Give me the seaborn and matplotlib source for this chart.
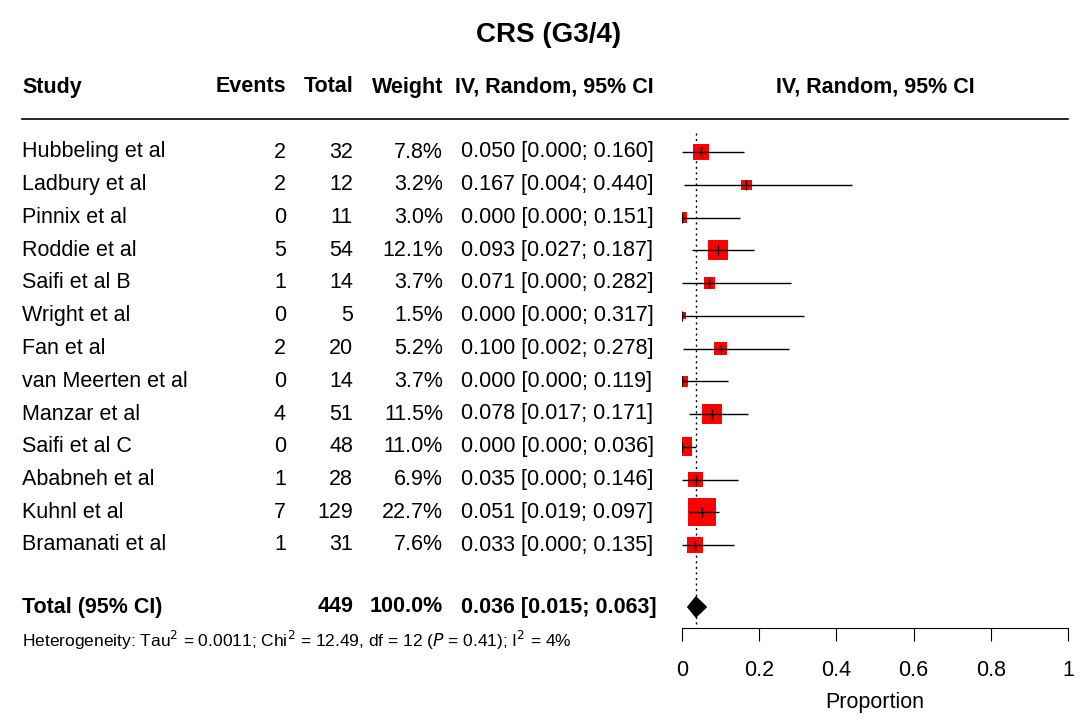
import matplotlib
matplotlib.use("Agg")
import matplotlib.pyplot as plt
import seaborn as sns
import pandas as pd
import numpy as np

studies = ["Hubbeling et al", "Ladbury et al", "Pinnix et al", "Roddie et al", "Saifi et al B",
           "Wright et al", "Fan et al", "van Meerten et al", "Manzar et al", "Saifi et al C",
           "Ababneh et al", "Kuhnl et al", "Bramanati et al"]
events = [2, 2, 0, 5, 1, 0, 2, 0, 4, 0, 1, 7, 1]
totals = [32, 12, 11, 54, 14, 5, 20, 14, 51, 48, 28, 129, 31]
weights = [7.8, 3.2, 3.0, 12.1, 3.7, 1.5, 5.2, 3.7, 11.5, 11.0, 6.9, 22.7, 7.6]
est = [0.050, 0.167, 0.000, 0.093, 0.071, 0.000, 0.100, 0.000, 0.078, 0.000, 0.035, 0.051, 0.033]
lo = [0.000, 0.004, 0.000, 0.027, 0.000, 0.000, 0.002, 0.000, 0.017, 0.000, 0.000, 0.019, 0.000]
hi = [0.160, 0.440, 0.151, 0.187, 0.282, 0.317, 0.278, 0.119, 0.171, 0.036, 0.146, 0.097, 0.135]
total_n = 449
pooled = (0.036, 0.015, 0.063)
xticks = [0, 0.2, 0.4, 0.6, 0.8, 1]

W, H = 1080, 724
plt.rcParams['font.family'] = ['Liberation Sans', 'DejaVu Sans']
fig = plt.figure(figsize=(W/100, H/100), dpi=100)
FS = 15.5

def T(x, y, s, ha="left", **kw):
    kw.setdefault("fontsize", FS)
    fig.text(x/W, 1-y/H, s, ha=ha, va="center", **kw)

row_y = [152 + i*32.75 for i in range(len(studies))]
tot_y = 607

T(549, 35, "CRS (G3/4)", ha="center", fontsize=20, fontweight="bold")
for x, s, ha in [(22, "Study", "left"), (286, "Events", "right"), (353, "Total", "right"),
                 (443, "Weight", "right"), (455, "IV, Random, 95% CI", "left"),
                 (875, "IV, Random, 95% CI", "center")]:
    T(x, 87, s, ha=ha, fontweight="bold")
fig.add_artist(plt.Line2D([22/W, 1068/W], [1-119/H]*2, color="black", lw=1.2))

for i, y in enumerate(row_y):
    T(22, y, studies[i])
    T(286, y, str(events[i]), ha="right")
    T(353, y, str(totals[i]), ha="right")
    T(443, y, f"{weights[i]:.1f}%", ha="right")
    T(461, y, f"{est[i]:.3f} [{lo[i]:.3f}; {hi[i]:.3f}]")
T(22, tot_y, "Total (95% CI)", fontweight="bold")
T(353, tot_y, str(total_n), ha="right", fontweight="bold")
T(443, tot_y, "100.0%", ha="right", fontweight="bold")
T(461, tot_y, f"{pooled[0]:.3f} [{pooled[1]:.3f}; {pooled[2]:.3f}]", fontweight="bold")
T(22, 640, r"Heterogeneity: Tau$^2$ = 0.0011; Chi$^2$ = 12.49, df = 12 ($P$ = 0.41); I$^2$ = 4%",
  fontsize=12.5)

x0, x1 = 682, 1068
ax = fig.add_axes([x0/W, 1-628/H, (x1-x0)/W, (628-120)/H])
ax.set_xlim(0, 1)
ax.set_ylim(628, 120)
df = pd.DataFrame({"y": row_y, "est": est, "lo": lo, "hi": hi, "w": weights})
sns.scatterplot(data=df, x="est", y="y", size="w", sizes=(1.5*17.6, 22.7*17.6),
                size_norm=(1.5, 22.7), marker="s", color="red", edgecolor="none",
                legend=False, ax=ax, zorder=3)
ax.hlines(df.y, df.lo, df.hi, color="black", lw=1, zorder=4)
ax.scatter(df.est, df.y, marker="|", color="black", s=50, lw=1, zorder=4)
ax.vlines(pooled[0], 133, 628, color="black", lw=1, linestyles=(0, (1.5, 2.5)))
ax.fill([pooled[1], pooled[0], pooled[2], pooled[0]], [tot_y, tot_y-10, tot_y, tot_y+10],
        color="black", zorder=5)
for s in ["top", "right", "left"]:
    ax.spines[s].set_visible(False)
ax.set_yticks([])
ax.set_xticks(xticks)
ax.set_xticklabels([f"{t:g}" for t in xticks], fontsize=FS)
ax.tick_params(axis="x", length=9, pad=14)
ax.set_xlabel("Proportion", fontsize=FS, labelpad=8)
ax.set_ylabel("")
ax.patch.set_alpha(0)
fig.savefig("out.png", dpi=100)
